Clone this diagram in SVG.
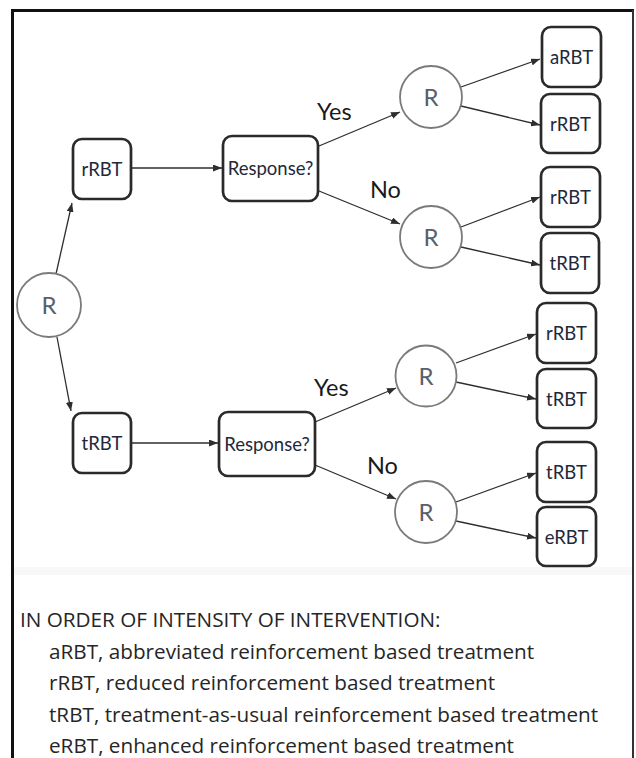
<svg xmlns="http://www.w3.org/2000/svg" width="636" height="758" viewBox="0 0 636 758">
<defs>
<style>
.box{fill:#fff;stroke:#2a2a2a;stroke-width:2.7}
.circ{fill:#fff;stroke:#7a7a7a;stroke-width:1.8}
.bt{font-family:Lato,"Open Sans",sans-serif;font-size:18.5px;fill:#22283a;text-anchor:middle}
.rt{font-family:Lato,"Open Sans",sans-serif;font-size:24px;fill:#59606c;text-anchor:middle}
.lab{font-family:Lato,"Open Sans",sans-serif;font-size:23.5px;fill:#1a1a1a}
.edge{stroke:#2e2e2e;stroke-width:1.3;fill:none;marker-end:url(#ah)}
.leg{font-family:"Open Sans","Liberation Sans",sans-serif;font-size:20.7px;fill:#262626}
</style>
<marker id="ah" markerWidth="9" markerHeight="7" refX="9" refY="3.5" orient="auto" markerUnits="userSpaceOnUse">
<path d="M0,0 L9,3.5 L0,7 z" fill="#2e2e2e"/>
</marker>
</defs>
<rect x="0" y="0" width="636" height="758" fill="#fff"/>
<rect x="14" y="567" width="618" height="8" fill="#f8f8f8"/>
<g id="frame" fill="none">
<line x1="11" y1="10.5" x2="634" y2="10.5" stroke="#111" stroke-width="3"/>
<line x1="12.5" y1="9" x2="12.5" y2="758" stroke="#111" stroke-width="3"/>
<line x1="633" y1="10" x2="633" y2="758" stroke="#333" stroke-width="2"/>
</g>
<g id="connectors">
<line class="edge" x1="56" y1="274" x2="72" y2="203"/>
<line class="edge" x1="57" y1="337" x2="71" y2="411"/>
<line class="edge" x1="131" y1="168" x2="222" y2="168"/>
<line class="edge" x1="131" y1="443" x2="218" y2="443"/>
<line class="edge" x1="319" y1="146" x2="400" y2="112"/>
<line class="edge" x1="319" y1="191" x2="400" y2="224"/>
<line class="edge" x1="315" y1="422" x2="396" y2="388"/>
<line class="edge" x1="315" y1="465" x2="396" y2="499"/>
<line class="edge" x1="461" y1="87" x2="540" y2="59"/>
<line class="edge" x1="461" y1="106" x2="540" y2="125"/>
<line class="edge" x1="461" y1="227" x2="540" y2="197"/>
<line class="edge" x1="461" y1="247" x2="540" y2="265"/>
<line class="edge" x1="456" y1="363" x2="536" y2="334"/>
<line class="edge" x1="456" y1="382" x2="536" y2="399"/>
<line class="edge" x1="456" y1="502" x2="536" y2="473"/>
<line class="edge" x1="456" y1="521" x2="536" y2="538"/>
<text class="lab" x="317" y="120">Yes</text>
<text class="lab" x="370" y="198">No</text>
<text class="lab" x="314" y="396">Yes</text>
<text class="lab" x="367" y="474">No</text>
</g>
<g id="R0"><circle class="circ" cx="49" cy="305" r="32"/><text class="rt" x="49" y="313.5">R</text></g>
<g id="rRBT_left"><rect class="box" x="73" y="139" width="58" height="60" rx="9"/><text class="bt" x="102" y="175.5">rRBT</text></g>
<g id="tRBT_left"><rect class="box" x="73" y="413" width="58" height="60" rx="9"/><text class="bt" x="102" y="449.5">tRBT</text></g>
<g id="Resp_top"><rect class="box" x="223" y="136" width="95" height="65" rx="9"/><text class="bt" x="270.5" y="174.5">Response?</text></g>
<g id="Resp_bot"><rect class="box" x="219" y="412" width="96" height="64" rx="9"/><text class="bt" x="267" y="450.5">Response?</text></g>
<g id="R1"><circle class="circ" cx="431" cy="97" r="31"/><text class="rt" x="431" y="105.5">R</text></g>
<g id="R2"><circle class="circ" cx="431" cy="237" r="31"/><text class="rt" x="431" y="245.5">R</text></g>
<g id="R3"><circle class="circ" cx="426" cy="376" r="30.5"/><text class="rt" x="426" y="384.5">R</text></g>
<g id="R4"><circle class="circ" cx="426" cy="512" r="31"/><text class="rt" x="426" y="520.5">R</text></g>
<g id="aRBT1"><rect class="box" x="542" y="27" width="59" height="60" rx="9"/><text class="bt" x="571.5" y="63.5">aRBT</text></g>
<g id="rRBT1"><rect class="box" x="541" y="94" width="59" height="59" rx="9"/><text class="bt" x="570.5" y="130.5">rRBT</text></g>
<g id="rRBT2"><rect class="box" x="541" y="167" width="59" height="60" rx="9"/><text class="bt" x="570.5" y="203.5">rRBT</text></g>
<g id="tRBT1"><rect class="box" x="541" y="233" width="58" height="60" rx="9"/><text class="bt" x="570" y="269.5">tRBT</text></g>
<g id="rRBT3"><rect class="box" x="537" y="303" width="59" height="60" rx="9"/><text class="bt" x="566.5" y="339.5">rRBT</text></g>
<g id="tRBT2"><rect class="box" x="537" y="369" width="59" height="59" rx="9"/><text class="bt" x="566.5" y="405.5">tRBT</text></g>
<g id="tRBT3"><rect class="box" x="537" y="442" width="59" height="60" rx="9"/><text class="bt" x="566.5" y="478.5">tRBT</text></g>
<g id="eRBT1"><rect class="box" x="537" y="507" width="59" height="59" rx="9"/><text class="bt" x="566.5" y="543.5">eRBT</text></g>
<g id="legend">
<text class="leg" x="20" y="627">IN ORDER OF INTENSITY OF INTERVENTION:</text>
<text class="leg" x="49" y="658.5">aRBT, abbreviated reinforcement based treatment</text>
<text class="leg" x="49" y="690">rRBT, reduced reinforcement based treatment</text>
<text class="leg" x="49" y="721.5">tRBT, treatment-as-usual reinforcement based treatment</text>
<text class="leg" x="49" y="753">eRBT, enhanced reinforcement based treatment</text>
</g>
</svg>
